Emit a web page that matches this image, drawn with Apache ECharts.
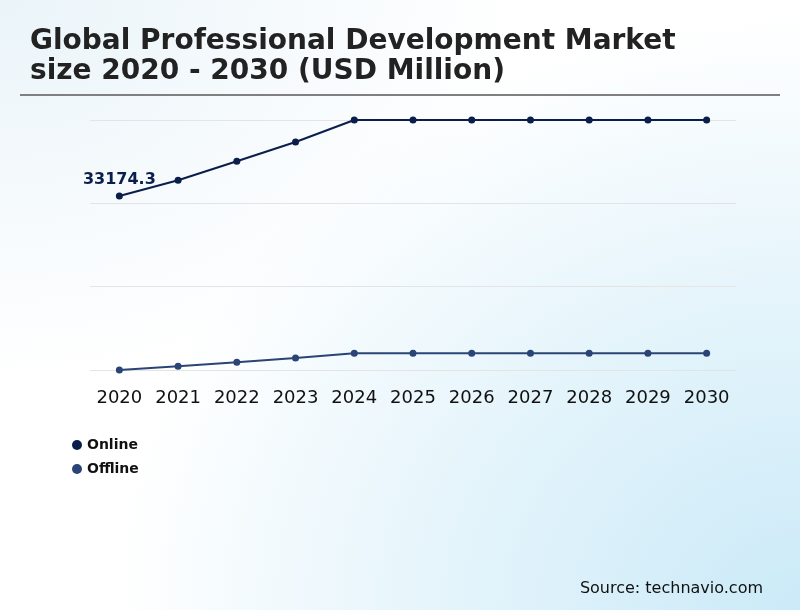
<!DOCTYPE html>
<html>
<head>
<meta charset="utf-8">
<script src="https://cdn.jsdelivr.net/npm/echarts@6/dist/echarts.min.js"></script>
<style>
html,body{margin:0;padding:0;}
#chart{width:800px;height:610px;
  background:
    radial-gradient(ellipse 520px 380px at 0% 0%, rgba(232,243,249,0.9) 0%, rgba(255,255,255,0) 100%),
    radial-gradient(ellipse 110% 125% at 100% 100%, #cbeaf8 0%, #e4f4fb 40%, #ffffff 78%);}
</style>
</head>
<body>
<div id="chart"></div>
<script>
const years = ['2020','2021','2022','2023','2024','2025','2026','2027','2028','2029','2030'];
const onlineValues = [33174.3, 35215.0, 37665.0, 40147.0, 42984.0, 42984.0, 42984.0, 42984.0, 42984.0, 42984.0, 42984.0];
const offlineValues = [10746.0, 11223.0, 11745.0, 12293.0, 12906.0, 12906.0, 12906.0, 12906.0, 12906.0, 12906.0, 12906.0];
const seriesNames = ['Online', 'Offline'];
const titleText = 'Global Professional Development Market\nsize 2020 - 2030 (USD Million)';
const sourceText = 'Source: technavio.com';

const chart = echarts.init(document.getElementById('chart'), null, {renderer:'canvas'});
const axisMin = 10746, axisInterval = 10746, axisMax = 42984;
chart.setOption({
  backgroundColor: 'transparent',
  title: {
    text: titleText,
    left: 25, top: 22,
    textStyle: {fontFamily:'DejaVu Sans', fontWeight:'bold', fontSize:28, color:'#222222', lineHeight:30}
  },
  graphic: [
    {type:'line', shape:{x1:20,y1:95,x2:780,y2:95}, style:{stroke:'#808080', lineWidth:2}},
    {type:'text', right:37, top:581, style:{text:sourceText, font:'16px "DejaVu Sans"', fill:'#111111'}}
  ],
  legend: {
    orient:'vertical', left:67, top:433, itemGap:10, icon:'circle', itemWidth:10, itemHeight:10,
    data: seriesNames,
    textStyle:{fontFamily:'DejaVu Sans', fontWeight:'bold', fontSize:14, color:'#111111'}
  },
  grid: {left:90, right:64, top:120, bottom:240, containLabel:false},
  xAxis: {
    type:'category', data: years, boundaryGap:true,
    axisLine:{show:false}, axisTick:{show:false},
    axisLabel:{interval:0, fontFamily:'DejaVu Sans', fontSize:18, color:'#111111', margin:19}
  },
  yAxis: {
    type:'value', min:axisMin, max:axisMax, interval:axisInterval,
    axisLabel:{show:false}, axisLine:{show:false}, axisTick:{show:false},
    splitLine:{lineStyle:{color:'#e4e4e4', width:1}}
  },
  series: [
    {name:seriesNames[0], type:'line', data:onlineValues, symbol:'circle', symbolSize:7,
     itemStyle:{color:'#0b1d4a'}, lineStyle:{color:'#0b1d4a', width:2},
     label:{show:true, position:'top', distance:5, fontFamily:'DejaVu Sans', fontWeight:'bold', fontSize:16, color:'#0b1d4a',
       formatter: p => p.dataIndex === 0 ? String(p.value) : ''}},
    {name:seriesNames[1], type:'line', data:offlineValues, symbol:'circle', symbolSize:7,
     itemStyle:{color:'#2b4476'}, lineStyle:{color:'#2b4476', width:2}}
  ]
});
</script>
</body>
</html>
